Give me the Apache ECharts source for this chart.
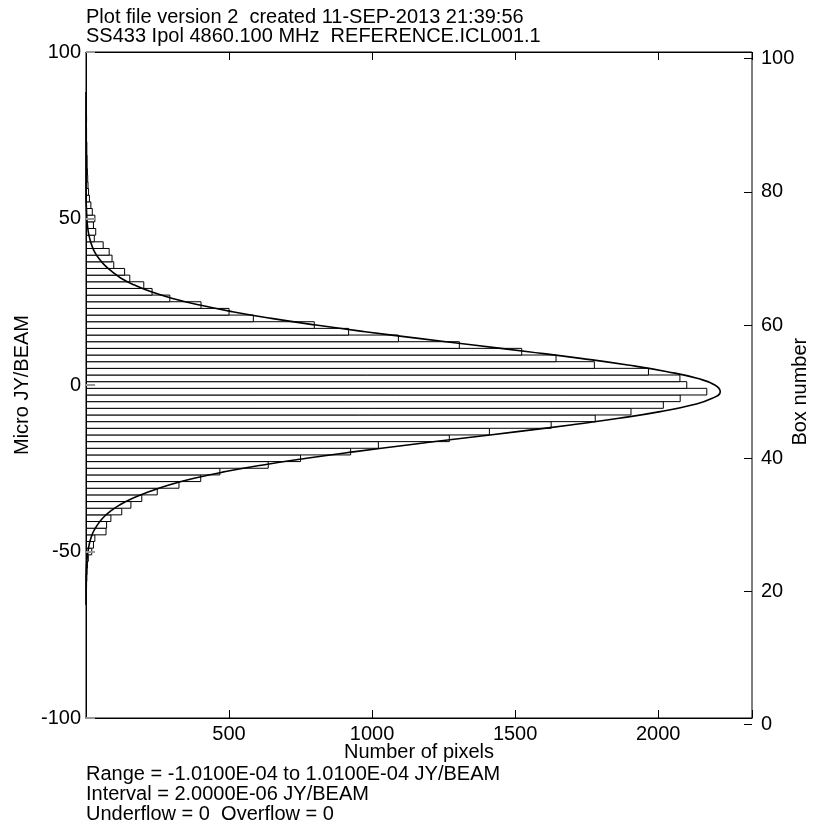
<!DOCTYPE html>
<html>
<head>
<meta charset="utf-8">
<script src="https://cdn.jsdelivr.net/npm/echarts@6/dist/echarts.min.js"></script>
<style>html,body{margin:0;padding:0;background:#fff}#c{width:814px;height:824px}</style>
</head>
<body>
<div id="c"></div>
<script>
// Box centres (micro JY/BEAM), one per 2 uJy box
const boxCentres = [-100,-98,-96,-94,-92,-90,-88,-86,-84,-82,-80,-78,-76,-74,-72,-70,-68,-66,
 -64,-62,-60,-58,-56,-54,-52,-50,-48,-46,-44,-42,-40,-38,-36,-34,-32,-30,-28,-26,-24,-22,-20,-18,-16,-14,-12,-10,-8,-6,-4,-2,
 0,2,4,6,8,10,12,14,16,18,20,22,24,26,28,30,32,34,36,38,40,42,44,46,48,50,52,54,56,58,60,62,64,66,68,70,72,74,76,78,80,82,84,
 86,88,90,92,94,96,98,100];
// Number of pixels in each box
const boxCounts = [0,0,0,0,0,0,0,0,0,0,0,0,0,0,0,0,0,0,
 1,1,2,3,4,5,8,20,26,31,70,72,87,125,157,195,249,325,401,468,637,750,925,1022,1270,1410,1626,1780,1905,2018,2077,2170,
 2100,2076,1966,1777,1643,1523,1305,1092,918,798,585,500,402,293,231,202,153,135,97,91,81,60,29,34,26,31,22,17,12,9,7,6,5,4,4,3,3,2,2,1,2,1,1,
 0,0,0,0,0,0,0,0];
// Fitted curve
const curveValues = [-66,-64,-62,-60,-58,-56,-54,-52,-50,-48,-46,-44,-42,-40,-38,-36,-34,-32,-30,-28,-26,-24,-22,-20,-18,-16,-14,-12,-10,-8,-6,-4,-2,
 0,2,4,6,8,10,12,14,16,18,20,22,24,26,28,30,32,34,36,38,40,42,44,46,48,50,52,54,56,60,70,80,88];
const curveCounts = [0,0,0,0,0,1,2,4,7,11,17,26,40,58,84,118,163,222,290,378,488,619,771,941,1124,1316,1508,1694,1863,2007,2118,2189,2217,
 2198,2136,2032,1894,1729,1546,1354,1162,976,804,648,512,398,303,228,170,124,92,65,45,30,20,13,8,5,3,2,1,0,0,0,0,0];
const xTicks = [500,1000,1500,2000];
const titleLines = ['Plot file version 2  created 11-SEP-2013 21:39:56','SS433 Ipol 4860.100 MHz  REFERENCE.ICL001.1'];
const footLines = ['Range = -1.0100E-04 to 1.0100E-04 JY/BEAM','Interval = 2.0000E-06 JY/BEAM','Underflow = 0  Overflow = 0'];

const FONT = 'Liberation Sans';
const FS = 20;
const chart = echarts.init(document.getElementById('c'), null, {renderer:'canvas'});
function ts(){ return {color:'#000', fontFamily:FONT, fontSize:FS, fontWeight:'normal'}; }
const option = {
  animation:false,
  backgroundColor:'#fff',
  title:[
    {text:titleLines[0], left:81, top:2, textStyle:ts()},
    {text:titleLines[1], left:81, top:21, textStyle:ts()},
    {text:footLines[0], left:81, top:759, textStyle:ts()},
    {text:footLines[1], left:81, top:779, textStyle:ts()},
    {text:footLines[2], left:81, top:799, textStyle:ts()}
  ],
  grid:[
    {left:86, right:62, top:52, bottom:106, show:true, borderColor:'#000', borderWidth:1, backgroundColor:'transparent', containLabel:false, outerBoundsMode:'none'},
    {left:86, right:62, top:58.7, bottom:99.3, show:false, containLabel:false, outerBoundsMode:'none'}
  ],
  xAxis:[
    {type:'value', gridIndex:0, position:'bottom', min:0, max:2328, interval:500,
     name:'Number of pixels', nameLocation:'middle', nameGap:24, nameMoveOverlap:false,
     nameTextStyle:ts(),
     axisLine:{show:true, onZero:false, lineStyle:{color:'#000', width:1}},
     axisTick:{show:true, inside:true, length:8, lineStyle:{color:'#000'}},
     axisLabel:{show:true, margin:6, color:'#000', fontFamily:FONT, fontSize:FS,
       formatter:function(v){return xTicks.indexOf(v)>=0 ? String(v) : '';}},
     splitLine:{show:false}},
    {type:'value', gridIndex:0, position:'top', min:0, max:2328, interval:500,
     axisLine:{show:true, onZero:false, lineStyle:{color:'#000', width:1}},
     axisTick:{show:true, inside:true, length:8, lineStyle:{color:'#000'}},
     axisLabel:{show:false}, splitLine:{show:false}},
    {type:'value', gridIndex:1, min:0, max:2328, show:false, axisLine:{onZero:false}}
  ],
  yAxis:[
    {type:'value', gridIndex:0, position:'left', min:-100, max:100, interval:50, z:10,
     name:'Micro JY/BEAM', nameLocation:'middle', nameGap:54, nameRotate:90, nameMoveOverlap:false,
     nameTextStyle:ts(),
     axisLine:{show:true, onZero:false, lineStyle:{color:'#000', width:1}},
     axisTick:{show:true, inside:true, length:9, lineStyle:{color:'#999', width:2}},
     axisLabel:{show:true, margin:5, color:'#000', fontFamily:FONT, fontSize:FS},
     splitLine:{show:false}},
    {type:'value', gridIndex:1, position:'right', min:0, max:100, interval:20, z:10,
     name:'Box number', nameLocation:'middle', nameGap:38, nameRotate:90, nameMoveOverlap:false,
     nameTextStyle:ts(),
     axisLine:{show:false, onZero:false},
     axisTick:{show:true, inside:true, length:8, lineStyle:{color:'#000'}},
     axisLabel:{show:true, margin:9, color:'#000', fontFamily:FONT, fontSize:FS},
     splitLine:{show:false}}
  ],
  series:[
    {type:'custom', xAxisIndex:0, yAxisIndex:0,
     data: boxCentres.map(function(v,i){return [boxCounts[i], v];}),
     encode:{x:0, y:1},
     clip:true,
     renderItem:function(params, api){
       const c = api.value(0), v = api.value(1);
       if (!c) return null;
       const p0 = api.coord([0, v+1]);
       const p1 = api.coord([c, v-1]);
       return {type:'rect',
         shape:{x:p0[0], y:p0[1], width:p1[0]-p0[0], height:p1[1]-p0[1]},
         style:{fill:'#fff', stroke:'#000', lineWidth:1}};
     }},
    {type:'line', xAxisIndex:0, yAxisIndex:0, smooth:true, showSymbol:false, symbol:'none',
     data: curveValues.map(function(v,i){return [curveCounts[i], v];}),
     lineStyle:{color:'#000', width:1.6}, z:5}
  ]
};
chart.setOption(option);
</script>
</body>
</html>
